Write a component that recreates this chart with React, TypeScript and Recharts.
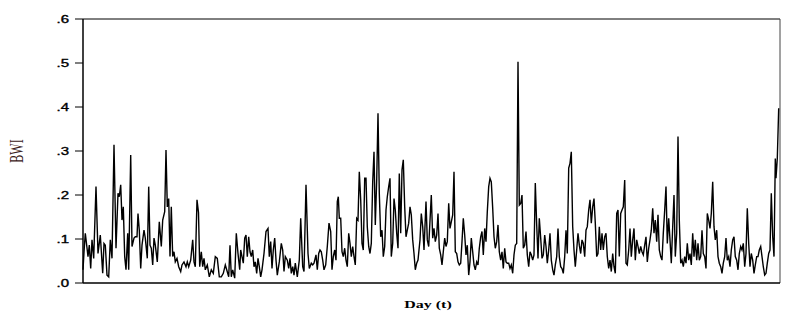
import { LineChart, Line, XAxis, YAxis, ReferenceLine } from "recharts"

// [day, BWI] pairs, left to right
const seg1: [number, number][] = [
  [0, 0.03], [1, 0.07], [2.3, 0.113], [5, 0.06], [6.3, 0.086], [7.7, 0.033], [9, 0.098], [10.7, 0.056],
  [13, 0.219], [15, 0.067], [17.3, 0.109], [19.7, 0.022], [21, 0.09], [22.3, 0.086], [24, 0.018], [25.7, 0.014],
  [27.3, 0.098], [29, 0.056], [31, 0.314], [33, 0.079], [35, 0.204], [36.3, 0.196], [37.7, 0.223], [39, 0.143],
  [40.3, 0.173], [41.7, 0.06], [43, 0.03], [44.7, 0.113], [45.7, 0.03], [47.7, 0.291], [49, 0.083], [51, 0.102],
  [52.3, 0.105], [54, 0.105], [55, 0.158], [56.3, 0.12], [57.7, 0.033], [59, 0.086], [61, 0.12], [62.3, 0.102],
  [64.3, 0.056], [65.7, 0.219], [67, 0.086], [68.3, 0.079], [69.7, 0.041], [71, 0.102], [72.3, 0.086], [74.3, 0.048],
  [76.3, 0.139], [78.3, 0.083], [79.7, 0.143], [81.7, 0.162], [83, 0.302], [84.3, 0.173], [85.7, 0.192], [87, 0.06],
  [88.3, 0.173], [89.7, 0.06], [91, 0.071], [92.3, 0.048], [94, 0.056], [95.7, 0.037], [97.7, 0.026], [99, 0.041],
  [101, 0.048], [103, 0.037], [104.3, 0.048], [105.7, 0.037], [107.7, 0.052], [109.7, 0.098], [111, 0.048],
  [112.3, 0.037], [114, 0.189], [115.5, 0.16],
]

const seg2: [number, number][] = [
  [116.7, 0.037], [118.3, 0.071], [119.7, 0.037], [121, 0.056], [122.3, 0.03], [124.3, 0.041], [126.3, 0.014],
  [128.3, 0.03], [130.3, 0.022], [132.3, 0.06], [134.3, 0.056], [136.3, 0.014], [138.3, 0.014], [140.3, 0.022],
  [142.3, 0.041], [143.7, 0.03], [145.7, 0.014], [147, 0.086], [148.3, 0.014], [149.7, 0.03], [151.7, 0.011],
  [153.3, 0.113], [155, 0.067], [156.7, 0.03], [157.7, 0.075], [159, 0.06], [160.3, 0.045], [161.7, 0.102],
  [163, 0.109], [164.3, 0.06], [165.7, 0.105], [167, 0.071], [168.3, 0.06], [169.7, 0.075], [171, 0.037],
  [172.3, 0.048], [173.7, 0.022], [175, 0.056], [176.3, 0.037], [177.7, 0.014], [179, 0.03], [181, 0.067],
  [183, 0.117], [185, 0.124], [186.3, 0.06], [187.7, 0.094], [189, 0.033], [190.3, 0.075], [191.7, 0.102],
  [193, 0.052], [194.3, 0.018], [196.3, 0.048], [198.3, 0.09], [199.7, 0.075], [201, 0.026], [202.3, 0.06],
  [204.3, 0.052], [205.7, 0.033], [207, 0.056], [208.3, 0.022], [209.7, 0.037], [211, 0.018], [212.3, 0.045],
  [214.3, 0.014], [216.3, 0.052], [217.7, 0.147], [219.7, 0.037], [221, 0.026], [223, 0.223], [225, 0.067],
  [226.3, 0.033], [228.3, 0.045], [229.7, 0.041],
]

const seg3: [number, number][] = [
  [231, 0.045], [233, 0.064], [234.3, 0.03], [235.7, 0.067], [237, 0.075], [238.3, 0.071], [239.7, 0.052],
  [241, 0.03], [242.7, 0.041], [244.3, 0.083], [246, 0.136], [247.7, 0.117], [249, 0.03], [250.3, 0.06],
  [251.7, 0.075], [253, 0.052], [254.3, 0.185], [255.3, 0.196], [256.3, 0.147], [257.7, 0.147], [259, 0.071],
  [260.3, 0.06], [261.7, 0.079], [263, 0.052], [264.3, 0.037], [265.7, 0.113], [267, 0.09], [268.3, 0.06],
  [269.7, 0.083], [271, 0.06], [272.3, 0.041], [273.7, 0.147], [275, 0.143], [276.3, 0.253], [277.7, 0.189],
  [279, 0.09], [280.3, 0.075], [281.7, 0.238], [283, 0.238], [284.3, 0.128], [285.7, 0.083], [287, 0.067],
  [288.3, 0.09], [289.7, 0.23], [291, 0.298], [292.3, 0.132], [293.7, 0.234], [295, 0.386], [296.3, 0.204],
  [297.7, 0.105], [299, 0.12], [300.3, 0.06], [301.7, 0.083], [303, 0.166], [304.3, 0.196], [305.7, 0.219],
  [307, 0.238], [308.3, 0.06], [309.7, 0.09], [311, 0.192], [312.3, 0.166], [313.7, 0.113], [315, 0.079],
  [316.3, 0.249], [317.7, 0.113], [319, 0.257], [320.3, 0.28], [321.7, 0.173], [323, 0.105], [324.3, 0.12],
  [325.7, 0.136], [327, 0.173], [328.3, 0.155], [329.7, 0.098], [331, 0.067], [332.3, 0.03], [333.7, 0.045],
  [335, 0.052], [337, 0.098], [338.3, 0.158], [339.7, 0.128], [341, 0.075], [343, 0.185], [344.3, 0.098],
  [345.7, 0.083],
]

const seg4: [number, number][] = [
  [348.3, 0.2], [349.7, 0.102], [351, 0.124], [352.3, 0.094], [353.7, 0.109], [355, 0.158], [356.3, 0.079],
  [357.7, 0.064], [359, 0.041], [360.3, 0.071], [361.7, 0.102], [363, 0.083], [364.3, 0.094], [365.7, 0.181],
  [367, 0.124], [368.3, 0.139], [369.7, 0.155], [371, 0.253], [372.3, 0.071], [373.7, 0.067], [375, 0.048],
  [376.3, 0.041], [377.7, 0.045], [379, 0.094], [380.3, 0.147], [381.7, 0.109], [383, 0.064], [384.3, 0.086],
  [385.7, 0.018], [387, 0.048], [388.3, 0.102], [389.7, 0.071], [391, 0.041], [392.3, 0.03], [393.7, 0.048],
  [395, 0.041], [396.3, 0.079], [397.7, 0.105], [399, 0.117], [400.3, 0.064], [401.7, 0.124], [403, 0.094],
  [404.3, 0.162], [405.7, 0.219], [407, 0.238], [408.3, 0.23], [409.7, 0.17], [411, 0.105], [412.3, 0.079],
  [413.7, 0.094], [415, 0.132], [416.3, 0.071], [417.7, 0.052], [419, 0.071], [420.3, 0.033], [421.7, 0.079],
  [423, 0.048], [424.3, 0.045], [425.7, 0.045], [427, 0.033], [428.3, 0.041], [429.7, 0.022], [431, 0.064],
  [432.3, 0.086], [433.7, 0.09], [435, 0.503], [436.3, 0.177], [437.7, 0.181], [439, 0.2], [440.3, 0.079],
  [441.7, 0.086], [443, 0.117], [444.3, 0.064], [445.7, 0.037], [447, 0.071], [448.3, 0.064], [449.7, 0.052],
  [451, 0.064], [452.3, 0.227], [453.7, 0.132], [455, 0.056], [456.3, 0.147], [457.7, 0.102], [459, 0.056],
  [460.3, 0.064], [461.7, 0.109],
]

const seg5: [number, number][] = [
  [463, 0.083], [464.3, 0.045], [465.7, 0.075], [467, 0.113], [468.3, 0.052], [469.7, 0.03], [471, 0.018],
  [472.3, 0.041], [473.7, 0.06], [475, 0.124], [476.3, 0.06], [477.7, 0.037], [479, 0.033], [480.3, 0.022],
  [481.7, 0.06], [483, 0.12], [484.3, 0.067], [485.7, 0.261], [487, 0.272], [488.3, 0.298], [489.7, 0.128],
  [491, 0.075], [492.3, 0.037], [493.7, 0.075], [495, 0.113], [496.3, 0.086], [497.7, 0.067], [499, 0.098],
  [500.3, 0.09], [501.7, 0.06], [503, 0.12], [504.3, 0.128], [505.7, 0.166], [507, 0.189], [508.3, 0.136],
  [509.7, 0.173], [511, 0.192], [512.3, 0.136], [513.7, 0.06], [515, 0.067], [516.3, 0.128], [517.7, 0.075],
  [519, 0.113], [520.3, 0.075], [521.7, 0.105], [523, 0.113], [524.3, 0.06], [525.7, 0.033], [527, 0.052],
  [528.3, 0.026], [529.7, 0.067], [531, 0.037], [532.3, 0.022], [533.7, 0.158], [535, 0.166], [536.3, 0.06],
  [537.7, 0.158], [539, 0.166], [540.3, 0.173], [541.7, 0.234], [543, 0.045], [544.3, 0.041], [545.7, 0.075],
  [547, 0.124], [548.3, 0.06], [549.7, 0.098], [551, 0.124], [552.3, 0.052], [553.7, 0.098], [555, 0.083],
  [556.3, 0.067], [557.7, 0.083], [559, 0.071], [560.3, 0.064], [561.7, 0.086], [563, 0.105], [564.3, 0.048],
  [565.7, 0.079], [567, 0.098], [568.3, 0.12], [569.7, 0.17], [571, 0.113], [572.3, 0.143], [573.7, 0.094],
  [575, 0.155], [576.3, 0.075], [577.7, 0.06],
]

const seg6: [number, number][] = [
  [579, 0.052], [580.3, 0.113], [581.7, 0.166], [583, 0.219], [584.3, 0.09], [585.7, 0.147], [587, 0.098],
  [588.3, 0.045], [589.7, 0.128], [591, 0.2], [592.3, 0.06], [593.7, 0.113], [595, 0.333], [596.3, 0.143],
  [597.7, 0.045], [599, 0.052], [600.3, 0.037], [601.7, 0.06], [603, 0.045], [604.3, 0.09], [605.7, 0.052],
  [607, 0.067], [608.3, 0.041], [609.7, 0.113], [611, 0.06], [612.3, 0.098], [613.7, 0.052], [615, 0.09],
  [616.3, 0.052], [617.7, 0.06], [619, 0.12], [620.3, 0.067], [621.7, 0.06], [623, 0.033], [624.3, 0.158],
  [625.7, 0.143], [627, 0.124], [628.3, 0.158], [629.7, 0.23], [631, 0.128], [632.3, 0.098], [633.7, 0.12],
  [635, 0.06], [636.3, 0.045], [637.7, 0.037], [639, 0.022], [640.3, 0.045], [641.7, 0.06], [643, 0.102],
  [644.3, 0.052], [645.7, 0.06], [647, 0.037], [648.3, 0.075], [649.7, 0.098], [651, 0.105], [652.3, 0.06],
  [653.7, 0.052], [655, 0.03], [656.3, 0.067], [657.7, 0.083], [659, 0.075], [660.3, 0.09], [661.7, 0.037],
  [663, 0.067], [664.3, 0.17], [665.7, 0.09], [667, 0.037], [668.3, 0.067], [669.7, 0.052], [671, 0.022],
  [672.3, 0.041], [673.7, 0.06], [675, 0.06], [676.3, 0.075], [677.7, 0.083], [679, 0.06], [680.3, 0.037],
  [681.7, 0.018], [683, 0.022], [684.3, 0.045], [685.7, 0.067], [687, 0.075], [688.3, 0.204], [689.7, 0.105],
  [691, 0.06], [692.3, 0.283], [693, 0.238], [694.3, 0.283], [695.7, 0.397],
]

const yTicks = [0, 0.1, 0.2, 0.3, 0.4, 0.5, 0.6]

const data = [...seg1, ...seg2, ...seg3, ...seg4, ...seg5, ...seg6].map(([day, bwi]) => ({ day, bwi }))

const fmt = (v: number) => v.toFixed(1).replace(/^0/, "")

const YTick = ({ x, y, payload }: any) => (
  <g transform={`translate(${x},${y})`}>
    <text
      x={0}
      y={0}
      dy={3.6}
      textAnchor="end"
      transform="scale(1.5,1)"
      fontFamily="'Liberation Sans', Arial, sans-serif"
      fontSize={10}
      fill="#000"
      stroke="#000"
      strokeWidth={0.35}
    >
      {fmt(payload.value)}
    </text>
  </g>
)

export default function App() {
  return (
    <div style={{ position: "fixed", left: 0, top: 0, width: 797, height: 317, background: "#fff" }}>
      <LineChart width={797} height={317} data={data} margin={{ top: 19, right: 17, left: 0, bottom: 0 }}>
        <XAxis
          type="number"
          dataKey="day"
          domain={[0, 697]}
          tick={false}
          tickLine={false}
          height={34}
          axisLine={{ stroke: "#000", strokeWidth: 1.5 }}
        />
        <YAxis
          domain={[0, 0.6]}
          ticks={yTicks}
          width={83}
          tickSize={8}
          tickMargin={6}
          tick={<YTick />}
          tickLine={{ stroke: "#000", strokeWidth: 1 }}
          axisLine={{ stroke: "#000", strokeWidth: 1.5 }}
        />
        <ReferenceLine y={0.6} stroke="#000" strokeWidth={1} />
        <ReferenceLine x={697} stroke="#444" strokeWidth={1} />
        <Line
          type="linear"
          dataKey="bwi"
          stroke="#000"
          strokeWidth={1.4}
          dot={false}
          isAnimationActive={false}
        />
      </LineChart>
      <div
        style={{
          position: "absolute",
          left: 16.5,
          top: 151,
          transform: "translate(-50%, -50%) rotate(-90deg) scaleY(1.5)",
          fontFamily: "'Liberation Serif', 'Times New Roman', serif",
          fontSize: 12,
          color: "#3a2020",
          whiteSpace: "nowrap",
          lineHeight: 1,
        }}
      >
        BWI
      </div>
      <div
        style={{
          position: "absolute",
          left: 428,
          top: 304,
          transform: "translate(-50%, -50%) scaleX(1.45)",
          fontFamily: "'Liberation Serif', 'Times New Roman', serif",
          fontSize: 11,
          fontWeight: "bold",
          color: "#000",
          whiteSpace: "nowrap",
          lineHeight: 1,
        }}
      >
        Day (t)
      </div>
    </div>
  )
}
